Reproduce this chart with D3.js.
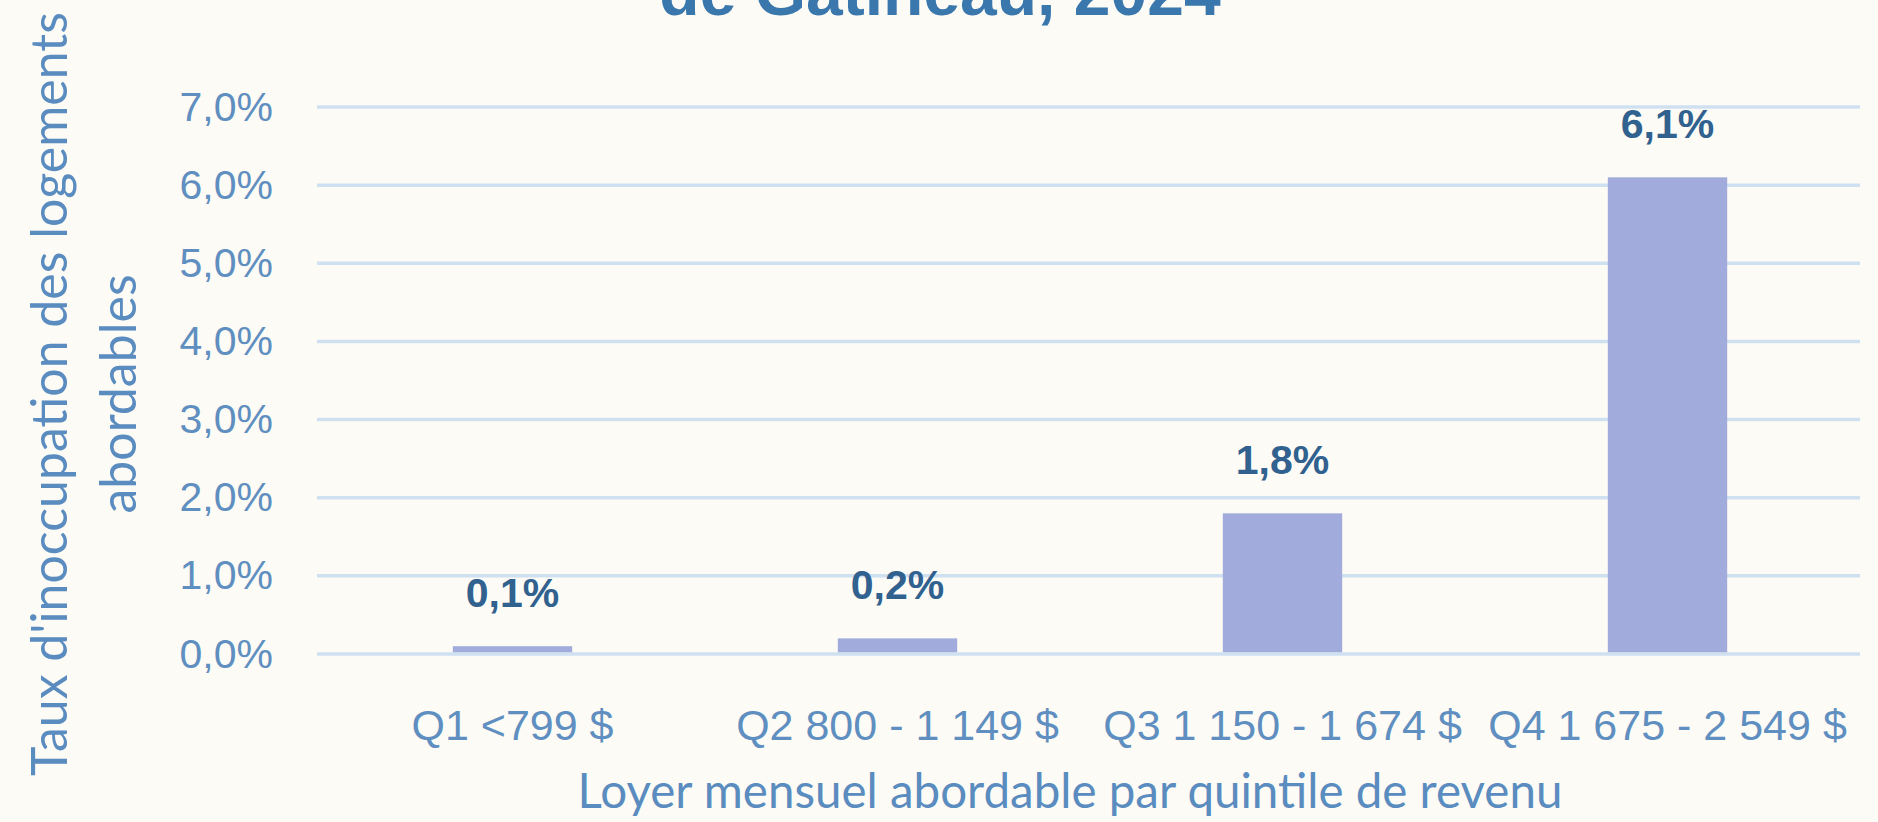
<!DOCTYPE html>
<html>
<head>
<meta charset="utf-8">
<script src="https://cdn.jsdelivr.net/npm/d3@7"></script>
<style>
  html, body { margin: 0; padding: 0; background: #fdfbf5; overflow: hidden; }
</style>
</head>
<body>
<div id="chart"></div>
<script>
// data
const quintiles = ["Q1 <799 $", "Q2 800 - 1 149 $", "Q3 1 150 - 1 674 $", "Q4 1 675 - 2 549 $"];
const vacancy = [0.1, 0.2, 1.8, 6.1];
const yTicks = [0, 1, 2, 3, 4, 5, 6, 7];

const width = 1878;
const height = 822;
const margins = {top: 107, bottom: 168, left: 320, right: 18};

const svg = d3.select('#chart')
    .append('svg')
    .attr('width', width)
    .attr('height', height);

svg.append('rect')
    .attr('width', width)
    .attr('height', height)
    .attr('fill', '#fdfbf5');

const fmt = v => v.toFixed(1).replace('.', ',') + '%';

var x_scale = d3.scaleBand()
    .domain(quintiles)
    .range([margins.left, width - margins.right])
    .paddingInner(0.69)
    .paddingOuter(0.345);

var y_scale = d3.scaleLinear()
    .domain([0, 7])
    .range([height - margins.bottom, margins.top]);

// title (first line sits above the visible area)
svg.append('text')
    .attr('x', 940)
    .attr('y', 15)
    .attr('text-anchor', 'middle')
    .attr('font-family', 'Liberation Sans, Arial, sans-serif')
    .attr('font-size', '66px')
    .attr('font-weight', 'bold')
    .attr('fill', '#3a77ad')
    .text('de Gatineau, 2024');

// gridlines
svg.append('g')
    .selectAll('line')
    .data(yTicks)
    .enter()
    .append('line')
    .attr('x1', margins.left - 3)
    .attr('x2', width - margins.right)
    .attr('y1', d => y_scale(d))
    .attr('y2', d => y_scale(d))
    .attr('stroke', '#cfe1f1')
    .attr('stroke-width', 3.5);

// y axis
let y_axis = d3.axisLeft(y_scale)
    .tickValues(yTicks)
    .tickSize(0)
    .tickPadding(47)
    .tickFormat(fmt);

svg.append('g')
    .attr('transform', 'translate(' + margins.left + ',0)')
    .call(y_axis)
    .call(g => g.select('.domain').remove())
    .selectAll('text')
    .attr('font-family', 'Liberation Sans, Arial, sans-serif')
    .attr('font-size', '41px')
    .attr('fill', '#5f8fc0');

// x axis
let x_axis = d3.axisBottom(x_scale)
    .tickSize(0)
    .tickPadding(55);

svg.append('g')
    .attr('transform', 'translate(0,' + y_scale(0) + ')')
    .call(x_axis)
    .call(g => g.select('.domain').remove())
    .selectAll('text')
    .attr('font-family', 'Liberation Sans, Arial, sans-serif')
    .attr('font-size', '43px')
    .attr('fill', '#5f8fc0');

// bars
svg.append('g')
    .selectAll('rect')
    .data(vacancy)
    .enter()
    .append('rect')
    .attr('x', (d, i) => x_scale(quintiles[i]))
    .attr('y', d => y_scale(d))
    .attr('width', x_scale.bandwidth())
    .attr('height', d => y_scale(0) - y_scale(d) - 1.75)
    .attr('fill', '#a1acdc');

// data labels
svg.append('g')
    .selectAll('text')
    .data(vacancy)
    .enter()
    .append('text')
    .attr('x', (d, i) => x_scale(quintiles[i]) + x_scale.bandwidth() / 2)
    .attr('y', d => y_scale(d) - 39)
    .attr('text-anchor', 'middle')
    .attr('font-family', 'Liberation Sans, Arial, sans-serif')
    .attr('font-size', '41px')
    .attr('font-weight', 'bold')
    .attr('fill', '#30618f')
    .text(fmt);

// axis titles
svg.append('text')
    .attr('x', 1070)
    .attr('y', 808)
    .attr('text-anchor', 'middle')
    .attr('font-family', 'Lato, sans-serif')
    .attr('font-size', '47.5px')
    .attr('fill', '#5a8cc0')
    .text('Loyer mensuel abordable par quintile de revenu');

var yTitle = svg.append('text')
    .attr('transform', 'translate(67,394) rotate(-90)')
    .attr('text-anchor', 'middle')
    .attr('font-family', 'Lato, sans-serif')
    .attr('font-size', '50px')
    .attr('fill', '#5a8cc0');

yTitle.append('tspan')
    .attr('x', 0)
    .attr('y', 0)
    .text("Taux d'inoccupation des logements");

yTitle.append('tspan')
    .attr('x', 0)
    .attr('y', 69)
    .text('abordables');
</script>
</body>
</html>
